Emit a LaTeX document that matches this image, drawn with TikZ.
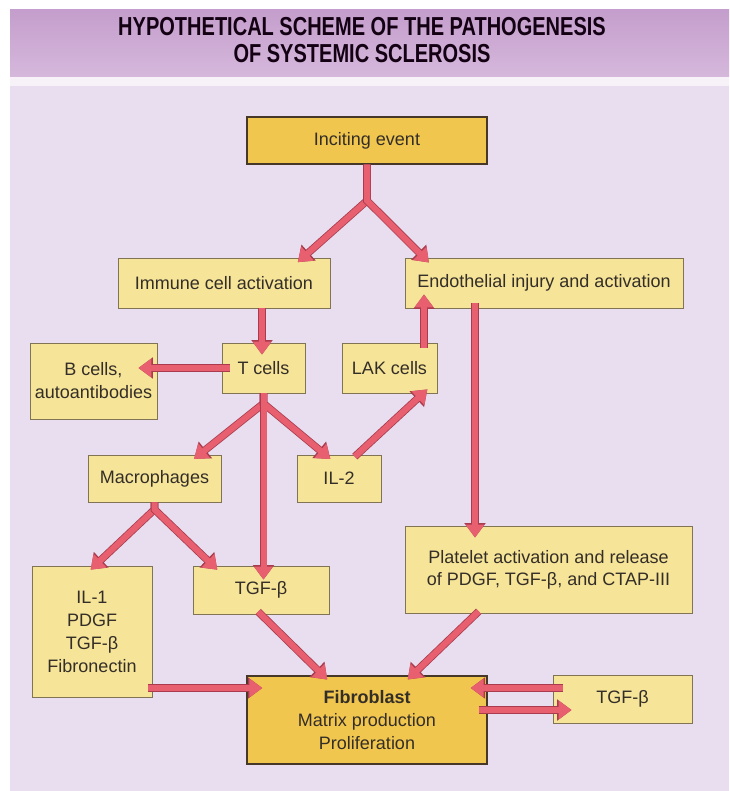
\documentclass[tikz,border=0pt]{standalone}
\usepackage{fontspec}
\setmainfont{Liberation Sans}
\newfontfamily\titlefont[FakeStretch=0.77]{Liberation Sans}
\usetikzlibrary{arrows.meta,positioning}

\definecolor{pagebg}{RGB}{232,222,240}
\definecolor{bandtop}{RGB}{196,158,204}
\definecolor{bandbot}{RGB}{214,184,220}
\definecolor{stripwhite}{RGB}{246,242,248}
\definecolor{boxfill}{RGB}{246,228,152}
\definecolor{boxline}{RGB}{128,116,84}
\definecolor{keyfill}{RGB}{241,198,78}
\definecolor{keyline}{RGB}{70,56,40}
\definecolor{arrowfill}{RGB}{232,96,112}
\definecolor{arrowedge}{RGB}{168,60,78}
\definecolor{inktext}{RGB}{52,46,40}

\tikzset{
  box/.style={draw=boxline, fill=boxfill, line width=0.9pt, inner sep=2pt,
    align=center, text=inktext, font=\fontsize{18}{23}\selectfont},
  keybox/.style={box, fill=keyfill, draw=keyline, line width=1.3pt},
  flow/.style={draw=arrowfill, line width=6pt, -{Triangle[length=13pt,width=18pt]},
    preaction={draw=arrowedge, line width=7.6pt, -{Triangle[length=14.5pt,width=20.5pt]}}},
}

\begin{document}
\begin{tikzpicture}[x=1pt,y=-1pt]
  % page
  \useasboundingbox (0,0) rectangle (729,791);
  \fill[white] (0,0) rectangle (729,791);
  \fill[pagebg] (10,10) rectangle (729,791);
  \shade[top color=bandtop, bottom color=bandbot] (10,10) rectangle (729,77);
  \fill[stripwhite] (10,77) rectangle (729,86);
  \node[align=center, text=black!85!violet, inner sep=0pt,
    font=\titlefont\bfseries\fontsize{26}{27}\selectfont] (title) at (362,40)
    {HYPOTHETICAL SCHEME OF THE PATHOGENESIS\\OF SYSTEMIC SCLEROSIS};

  % boxes
  \node[keybox, minimum width=240pt, minimum height=47pt] (inciting) at (367,140.5) {Inciting event};
  \node[box, minimum width=212pt, minimum height=50pt] (immune) at (224,283) {Immune cell activation};
  \node[box, minimum width=278pt, minimum height=50pt] (endo) at (544,283) {Endothelial injury and activation};
  \node[box, minimum width=127pt, minimum height=76pt] (bcells) at (93.5,381) {B cells,\\autoantibodies};
  \node[box, minimum width=83pt, minimum height=50pt] (tcells) at (263.5,368) {T cells};
  \node[box, minimum width=95pt, minimum height=50pt] (lak) at (389.5,368) {LAK cells};
  \node[box, minimum width=133pt, minimum height=47pt] (macro) at (154.5,478.5) {Macrophages};
  \node[box, minimum width=84pt, minimum height=47pt] (iltwo) at (339,478.5) {IL-2};
  \node[box, minimum width=120pt, minimum height=131pt] (ilmix) at (92,631.5) {IL-1\\PDGF\\TGF-β\\Fibronectin};
  \node[box, minimum width=136pt, minimum height=48pt] (tgfmid) at (261,590) {TGF-β};
  \node[box, minimum width=287pt, minimum height=87pt, font=\fontsize{18}{22}\selectfont] (platelet) at (548.5,569.5)
    {Platelet activation and release\\of PDGF, TGF-β, and CTAP-III};
  \node[keybox, minimum width=240pt, minimum height=88pt] (fibro) at (367,720)
    {\textbf{Fibroblast}\\Matrix production\\Proliferation};
  \node[box, minimum width=139pt, minimum height=48pt] (tgfright) at (622.5,699) {TGF-β};

  % forks
  \coordinate (fork1) at ([yshift=-36pt]inciting.south);
  \coordinate (fork2) at ([yshift=-10pt]tcells.south);
  \coordinate (fork3) at ([yshift=-7pt]macro.south);

  % connectors
  \draw[flow, shorten >=-7pt] (inciting.south) -- (fork1) -- ([xshift=79pt]immune.north);
  \draw[flow, shorten >=-7pt] (inciting.south) -- (fork1) -- ([xshift=-120pt]endo.north);
  \draw[flow, shorten >=-12pt] ([xshift=38pt]immune.south) -- ([xshift=38pt]immune.south |- tcells.north);
  \draw[flow, shorten <=-8pt, shorten >=-19pt] (tcells.west) -- (tcells.west -| bcells.east);
  \draw[flow, shorten <=-5pt, shorten >=-14pt] ([xshift=34.5pt]lak.north) -- ([xshift=34.5pt]lak.north |- endo.south);
  \draw[flow, shorten <=-5pt, shorten >=-12pt] ([xshift=-69pt]endo.south) -- ([xshift=-69pt]endo.south |- platelet.north);
  \draw[flow, shorten >=-7pt] (tcells.south) -- (fork2) -- ([xshift=45pt]macro.north);
  \draw[flow, shorten >=-7pt] (tcells.south) -- (fork2) -- ([xshift=-14pt]iltwo.north);
  \draw[flow, shorten >=-14pt] (tcells.south) -- (tcells.south |- tgfmid.north);
  \draw[flow, shorten <=-3pt, shorten >=-6pt] ([xshift=18pt]iltwo.north) -- ([xshift=33.5pt]lak.south);
  \draw[flow, shorten >=-6pt] (macro.south) -- (fork3) -- ([xshift=3pt]ilmix.north);
  \draw[flow, shorten >=-6pt] (macro.south) -- (fork3) -- ([xshift=-48pt]tgfmid.north);
  \draw[flow, shorten <=-4pt, shorten >=-6pt] (tgfmid.south) -- ([xshift=-44pt]fibro.north);
  \draw[flow, shorten <=-3pt, shorten >=-6pt] ([xshift=-72pt]platelet.south) -- ([xshift=45pt]fibro.north);
  \draw[flow, shorten <=-4pt, shorten >=-16pt] ([yshift=-56.5pt]ilmix.east) -- ([yshift=-56.5pt]ilmix.east -| fibro.west);
  \draw[flow, shorten <=-10pt, shorten >=-17pt] ([yshift=11pt]tgfright.west) -- ([yshift=11pt]tgfright.west -| fibro.east);
  \draw[flow, shorten <=-9pt, shorten >=-19pt] ([yshift=-11pt]tgfright.west -| fibro.east) -- ([yshift=-11pt]tgfright.west);
\end{tikzpicture}
\end{document}
